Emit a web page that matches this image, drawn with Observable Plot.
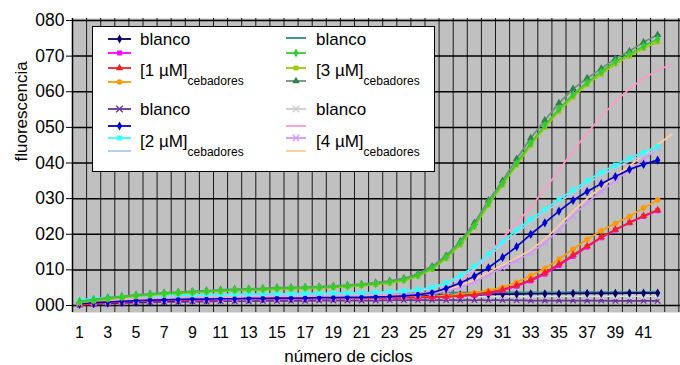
<!DOCTYPE html>
<html><head><meta charset="utf-8">
<script src="https://cdn.jsdelivr.net/npm/d3@7"></script>
<script src="https://cdn.jsdelivr.net/npm/@observablehq/plot@0.6"></script>
<style>
body{margin:0;background:#fff;}
#chart{width:680px;height:365px;}
svg{font-family:"Liberation Sans",Arial,sans-serif;}
</style></head><body><div id="chart"></div>
<script>
// ---- data ----
const xTickLabels = [1,3,5,7,9,11,13,15,17,19,21,23,25,27,29,31,33,35,37,39,41];
const yTicks = [0,10,20,30,40,50,60,70,80];

// blanks
const blanco1 = [0.3,0.5,0.7,0.9,1.0,1.2,1.3,1.4,1.5,1.6, 1.7,1.8,1.8,1.9,2.0,2.0,2.1,2.2,2.2,2.3, 2.4,2.5,2.5,2.6,2.7,2.8,2.9,3.0,3.0,3.1, 3.2,3.2,3.3,3.3,3.3,3.4,3.4,3.4,3.4,3.5, 3.5,3.5];
const blanco2 = [0.2,0.4,0.6,0.7,0.8,0.9,1.0,1.0,1.1,1.1, 1.2,1.2,1.2,1.3,1.3,1.3,1.3,1.4,1.4,1.4, 1.4,1.4,1.5,1.5,1.5,1.5,1.5,1.5,1.5,1.5, 1.5,1.5,1.4,1.4,1.4,1.4,1.4,1.4,1.3,1.3, 1.3,1.3];
const blanco3 = [1.5,1.7,1.9,2.1,2.3,2.4,2.5,2.6,2.7,2.8, 2.9,3.0,3.0,3.1,3.1,3.2,3.2,3.3,3.3,3.3, 3.4,3.4,3.4,3.5,3.5,3.5,3.6,3.6,3.6,3.6, 3.7,3.7,3.7,3.7,3.7,3.8,3.8,3.8,3.8,3.8, 3.8,3.9];
const blanco4 = [0.5,0.8,1.0,1.2,1.4,1.5,1.6,1.7,1.8,1.9, 1.9,2.0,2.0,2.1,2.1,2.1,2.2,2.2,2.2,2.3, 2.3,2.3,2.3,2.4,2.4,2.4,2.4,2.5,2.5,2.5, 2.5,2.5,2.5,2.6,2.6,2.6,2.6,2.6,2.6,2.6, 2.6,2.6];
// [1 µM]
const uM1_a = [0.2,0.5,0.8,1.0,1.2,1.3,1.4,1.5,1.6,1.6, 1.7,1.7,1.8,1.8,1.8,1.9,1.9,1.9,2.0,2.0, 2.0,2.1,2.1,2.2,2.2,2.3,2.4,2.6,2.9,3.4, 4.2,5.4,6.9,8.8,11.2,13.8,16.4,19.0,21.2,23.2, 25.0,26.6];
const uM1_b = [0.3,0.6,0.9,1.1,1.3,1.4,1.5,1.6,1.7,1.7, 1.8,1.8,1.9,1.9,1.9,2.0,2.0,2.0,2.1,2.1, 2.1,2.2,2.2,2.3,2.3,2.4,2.5,2.7,3.0,3.6, 4.5,5.7,7.2,9.2,11.6,14.2,16.7,19.2,21.3,23.3, 25.2,26.8];
const uM1_c = [0.4,0.7,1.0,1.2,1.4,1.5,1.6,1.7,1.8,1.8, 1.9,1.9,2.0,2.0,2.0,2.1,2.1,2.1,2.2,2.2, 2.2,2.3,2.3,2.4,2.5,2.6,2.8,3.1,3.6,4.2, 5.1,6.5,8.4,10.4,13.0,15.8,18.6,21.0,23.0,25.0, 27.4,29.6];
// [2 µM]
const uM2_a = [0.5,0.8,1.0,1.2,1.4,1.5,1.6,1.7,1.8,1.8, 1.9,1.9,2.0,2.0,2.1,2.1,2.1,2.2,2.2,2.3, 2.3,2.4,2.5,2.7,3.0,3.6,4.8,6.3,8.2,10.6, 13.5,16.5,20.0,23.2,26.5,29.5,32.0,34.2,36.2,38.2, 39.6,40.8];
const uM2_b = [1.5,2.0,2.3,2.5,2.7,2.8,2.9,3.0,3.0,3.1, 3.1,3.2,3.2,3.3,3.3,3.3,3.4,3.4,3.5,3.5, 3.6,3.7,3.9,4.1,4.5,5.1,6.4,8.4,11.0,14.4, 18.0,21.2,24.2,27.0,29.8,32.4,35.0,37.4,39.4,41.4, 43.0,44.6];
const uM2_c = [1.2,1.6,1.9,2.1,2.3,2.4,2.5,2.6,2.7,2.7, 2.8,2.8,2.9,2.9,3.0,3.0,3.0,3.1,3.1,3.2, 3.2,3.3,3.5,3.7,4.1,4.7,5.9,7.8,10.3,13.6, 17.2,20.4,23.4,26.2,29.0,31.6,34.2,36.6,38.6,40.6, 42.2,43.8];
// [3 µM]
const uM3_a = [1.0,1.5,2.0,2.4,2.8,3.1,3.4,3.6,3.8,4.0, 4.2,4.4,4.5,4.6,4.8,4.9,5.0,5.1,5.3,5.5, 5.8,6.1,6.6,7.3,8.5,10.5,13.6,17.6,22.5,28.8, 34.3,40.0,45.6,50.6,55.2,59.2,62.6,65.6,68.5,70.6, 72.8,74.8];
const uM3_b = [0.8,1.3,1.8,2.2,2.6,2.9,3.2,3.4,3.6,3.8, 4.0,4.2,4.3,4.4,4.6,4.7,4.8,4.9,5.1,5.3, 5.6,5.9,6.3,7.0,8.2,10.2,13.2,17.0,22.0,28.2, 33.8,39.4,45.0,50.0,54.5,58.5,62.0,65.0,67.8,70.0, 72.2,74.0];
const uM3_c = [1.2,1.7,2.2,2.6,3.0,3.3,3.6,3.8,4.0,4.2, 4.4,4.6,4.7,4.8,5.0,5.1,5.2,5.3,5.5,5.7, 6.0,6.4,6.9,7.6,8.9,11.0,14.0,18.0,23.2,29.5, 35.0,41.2,47.0,52.0,56.8,60.8,63.8,66.5,69.3,71.4, 73.9,76.0];
// [4 µM]
const uM4_a = [1.0,1.4,1.7,1.9,2.0,2.1,2.2,2.3,2.3,2.4, 2.4,2.5,2.5,2.6,2.6,2.6,2.7,2.7,2.8,2.8, 2.9,2.9,3.0,3.1,3.3,3.7,4.6,6.6,10.0,14.4, 19.0,23.2,27.6,32.6,38.0,43.4,48.4,53.0,57.2,60.8, 63.8,66.0,67.8];
const uM4_b = [0.6,0.9,1.1,1.3,1.4,1.5,1.6,1.7,1.7,1.8, 1.8,1.9,1.9,2.0,2.0,2.0,2.1,2.1,2.2,2.2, 2.3,2.4,2.5,2.7,3.0,3.4,4.1,5.1,6.6,8.6, 10.6,12.6,14.8,17.6,21.2,25.2,28.8,32.0,35.0,38.0, 41.0,44.0];
const uM4_c = [0.8,1.1,1.3,1.5,1.6,1.7,1.8,1.9,1.9,2.0, 2.0,2.1,2.1,2.2,2.2,2.2,2.3,2.3,2.4,2.4, 2.5,2.6,2.7,2.9,3.2,3.7,4.5,5.6,7.2,9.3, 11.4,13.4,15.6,18.6,22.4,26.4,30.0,33.2,36.2,39.2, 42.2,45.2,48.0];

// ---- styles (series drawing order: back to front) ----
const seriesList = [
  {values: blanco2, color: "#663399", symbol: "times"},
  {values: blanco4, color: "#dcdcdc", symbol: "times"},
  {values: blanco3, color: "#2e8b8b", symbol: null},
  {values: blanco1, color: "#000066", symbol: "diamond"},
  {values: uM1_a, color: "#ff00ff", symbol: "square"},
  {values: uM1_c, color: "#ff9900", symbol: "circle"},
  {values: uM1_b, color: "#ee2222", symbol: "triangle"},
  {values: uM4_b, color: "#cc99ff", symbol: "times"},
  {values: uM4_c, color: "#ffcc99", symbol: null},
  {values: uM4_a, color: "#ff99cc", symbol: null},
  {values: uM2_c, color: "#a6cdee", symbol: null},
  {values: uM2_a, color: "#0000cc", symbol: "diamond"},
  {values: uM2_b, color: "#33ffff", symbol: "square"},
  {values: uM3_c, color: "#2f7f4f", line: "#6f8f78", symbol: "triangle"},
  {values: uM3_b, color: "#99cc00", symbol: "square"},
  {values: uM3_a, color: "#33cc33", symbol: "diamond"}
];

const marks = [
  Plot.frame({fill: "#c0c0c0", stroke: null}),
  Plot.gridX({ticks: d3.range(0.5, 44, 1), stroke: "#1a1a1a", strokeOpacity: 1, strokeWidth: 1}),
  Plot.gridY({ticks: yTicks, stroke: "#000", strokeOpacity: 1, strokeWidth: 1.5}),
];
for (const s of seriesList) {
  const rows = s.values.map((v, i) => ({cycle: i + 1, value: v}));
  marks.push(Plot.line(rows, {x: "cycle", y: "value", stroke: s.line || s.color, strokeWidth: 1.7}));
  if (s.symbol) {
    const stroked = s.symbol === "times";
    marks.push(Plot.dot(rows, {x: "cycle", y: "value", symbol: s.symbol, r: stroked ? 2.6 : 2.8,
      fill: stroked ? "none" : s.color, stroke: stroked ? s.color : "none", strokeWidth: 1.3}));
  }
}
marks.push(
  Plot.ruleX([0.5], {stroke: "#000", strokeWidth: 1.5}),
  Plot.axisY({ticks: yTicks, tickSize: 6, tickPadding: 2, fontSize: 17.5, stroke: "#000",
    tickFormat: d => String(d).padStart(3, "0"), label: null}),
  Plot.axisX({ticks: xTickLabels, tickSize: 0, tickPadding: 14, fontSize: 16, label: null}),
  Plot.text(["número de ciclos"], {frameAnchor: "bottom", dx: -28, dy: 44, fontSize: 17, lineAnchor: "middle", fill: "#000"}),
  Plot.text(["fluorescencia"], {frameAnchor: "left", dx: -51, dy: -4, rotate: -90, fontSize: 17, lineAnchor: "middle", fill: "#000"})
);

const chart = Plot.plot({
  width: 680, height: 365,
  marginLeft: 72, marginRight: 0, marginTop: 18, marginBottom: 53,
  x: {domain: [0.5, 43.62], axis: null},
  y: {domain: [-1.96, 80.56], axis: null},
  style: {background: "#fff", color: "#000", fontFamily: "'Liberation Sans', Arial, sans-serif"},
  marks
});
document.getElementById("chart").append(chart);

// ---- legend (decoration, drawn in the svg) ----
const svg = d3.select(chart);
const lg = svg.append("g").attr("text-anchor", "start");
lg.append("rect").attr("x", 92.5).attr("y", 26.5).attr("width", 342).attr("height", 145)
  .attr("fill", "#fff").attr("stroke", "#000").attr("stroke-width", 1);
const symMap = {diamond: d3.symbolDiamond, square: d3.symbolSquare, triangle: d3.symbolTriangle, circle: d3.symbolCircle, times: d3.symbolTimes};
function swatch(x1, x2, y, color, sym, lineColor) {
  lg.append("line").attr("x1", x1).attr("x2", x2).attr("y1", y).attr("y2", y)
    .attr("stroke", lineColor || color).attr("stroke-width", 1.8);
  if (sym) {
    const stroked = sym === "times";
    lg.append("path").attr("d", d3.symbol(symMap[sym], stroked ? 30 : 24)())
      .attr("transform", `translate(${(x1 + x2) / 2},${y})`)
      .attr("fill", stroked ? "none" : color).attr("stroke", stroked ? color : "none").attr("stroke-width", 1.3);
  }
}
function label(x, y, main, sub) {
  const t = lg.append("text").attr("x", x).attr("y", y).attr("font-size", 17)
    .attr("text-anchor", "start").attr("fill", "#000");
  t.append("tspan").text(main);
  if (sub) t.append("tspan").attr("font-size", 12).attr("dy", 9).text(sub);
}
const L = [108, 131], R = [286, 306];
const legendRows = [
  [L, 39, "#000066", "diamond"], [L, 53, "#ff00ff", "square"], [L, 68, "#ee2222", "triangle"], [L, 82, "#ff9900", "circle"],
  [L, 109, "#663399", "times"], [L, 126, "#0000cc", "diamond"], [L, 138, "#33ffff", "square"], [L, 151, "#a6cdee", null],
  [R, 38, "#2e8b8b", null], [R, 53, "#33cc33", "diamond"], [R, 68, "#99cc00", "square"], [R, 81, "#2f7f4f", "triangle", "#6f8f78"],
  [R, 109, "#cccccc", "times"], [R, 126, "#ff99cc", null], [R, 138, "#cc99ff", "times"], [R, 151, "#ffcc99", null]
];
for (const [c, y, col, sym, lc] of legendRows) swatch(c[0], c[1], y, col, sym, lc);
label(140, 45, "blanco"); label(140, 76, "[1 µM]", "cebadores");
label(140, 115, "blanco"); label(140, 147, "[2 µM]", "cebadores");
label(316, 45, "blanco"); label(316, 76, "[3 µM]", "cebadores");
label(316, 115, "blanco"); label(316, 147, "[4 µM]", "cebadores");
</script></body></html>
